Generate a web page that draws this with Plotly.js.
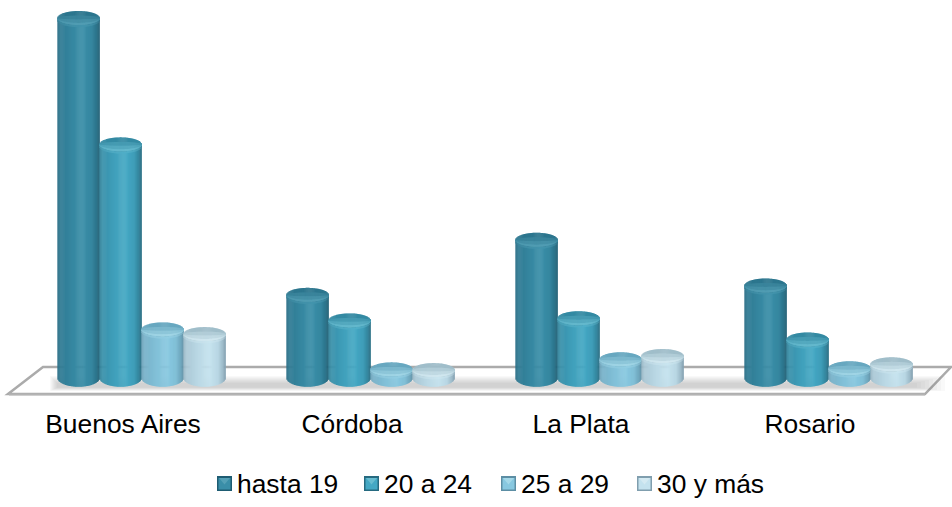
<!DOCTYPE html>
<html>
<head>
<meta charset="utf-8">
<script src="https://cdn.plot.ly/plotly-3.0.1.min.js"></script>
<style>html,body{margin:0;padding:0;background:#fff}#chart{width:952px;height:507px}</style>
</head>
<body>
<div id="chart"></div>
<script>
// Values per city for each age group
const categories = ['Buenos Aires', 'Córdoba', 'La Plata', 'Rosario'];
const hasta19 = [100, 23.1, 38.4, 25.7];
const de20a24 = [64.9, 16, 16.6, 10.7];
const de25a29 = [13.5, 2.4, 5.2, 2.7];
const de30ymas = [12.2, 2.2, 6.1, 3.8];
const seriesNames = ['hasta 19', '20 a 24', '25 a 29', '30 y más'];
const seriesValues = [hasta19, de20a24, de25a29, de30ymas];

// Cylinder palettes: shadow edge, lit body, cap back, cap rim
const palettes = [
  {edge: [30, 92, 114],   lit: [58, 142, 168],  back: [44, 118, 142],  rim: [84, 160, 182]},
  {edge: [38, 106, 128],  lit: [68, 168, 196],  back: [52, 138, 163],  rim: [104, 188, 208]},
  {edge: [92, 142, 164],  lit: [136, 200, 224], back: [104, 168, 192], rim: [164, 216, 232]},
  {edge: [128, 158, 174], lit: [196, 226, 238], back: [160, 190, 202], rim: [212, 234, 242]}
];

const W = 952, H = 507, plotBottom = 406;
const unitPx = 3.6, baselinePx = 378;        // pixels per value unit, baseline row
const groupPx = 229, firstGroupPx = 123;     // group pitch and first tick column
const cylPx = 42, groupShiftPx = 18.6;       // cylinder width, 3D shift of the bars from the tick
const ry = 7 / unitPx;                       // half height of the ellipses, in value units
const strips = 44;

const mix = (a, b, w) => a.map((c, i) => c + (b[i] - c) * w);
const css = c => 'rgb(' + c.map(Math.round).join(',') + ')';
const lightStops = [[-1, .3], [-.85, .62], [-.3, .86], [.25, 1], [.65, .84], [.88, .42], [1, 0]];
function light(t) {
  for (let i = 1; i < lightStops.length; i++) {
    const [t0, v0] = lightStops[i - 1], [t1, v1] = lightStops[i];
    if (t <= t1) return v0 + (v1 - v0) * (t - t0) / (t1 - t0);
  }
  return 0;
}

const stripT = [];
for (let k = 0; k < strips; k++) stripT.push(-1 + 2 * (k + .5) / strips);
const semi = t => ry * Math.sqrt(Math.max(0, 1 - t * t));

const traces = [];
function stripTrace(si, topFn, baseFn, colorFn) {
  const x = [], y = [], base = [], color = [];
  categories.forEach((c, ci) => {
    const v = seriesValues[si][ci];
    const cx = ci + (groupShiftPx + (si - 1.5) * cylPx) / groupPx;
    stripT.forEach(t => {
      x.push(cx + t * cylPx / 2 / groupPx);
      const b = baseFn(v, t);
      base.push(b);
      y.push(topFn(v, t) - b);
      color.push(colorFn(t));
    });
  });
  traces.push({
    type: 'bar', x, y, base, width: 1.5 * cylPx / strips / groupPx,
    marker: {color, line: {width: 0}}, showlegend: false, hoverinfo: 'skip', name: seriesNames[si]
  });
}

seriesNames.forEach((name, si) => {
  const p = palettes[si];
  // body, its foot curving slightly below the baseline
  stripTrace(si, (v, t) => v - semi(t), (v, t) => -semi(t) * 1.25, t => css(mix(p.edge, p.lit, light(t))));
  // bright band under the rim
  stripTrace(si, (v, t) => v - semi(t), (v, t) => v - semi(t) - .6,
    t => css(mix(mix(p.edge, p.lit, light(t)), p.rim, .35)));
  // cap, back to front
  [[1, 0], [.35, .35], [-.2, .65], [-.7, .95]].forEach(([f, w]) => {
    stripTrace(si, (v, t) => v + semi(t) * f, (v, t) => v - semi(t),
      t => css(mix(p.back, p.rim, w * (0.6 + 0.4 * light(t)))));
  });
});

const xRange = [-firstGroupPx / groupPx, (W - firstGroupPx) / groupPx];
const yRange = [(baselinePx - plotBottom) / unitPx, baselinePx / unitPx];

// Page-pixel helpers for the floor and the key
const px = x => x / W, py = y => 1 - y / plotBottom;
const pagePath = pts => 'M' + pts.map(p => px(p[0]) + ',' + py(p[1])).join('L') + 'Z';
const pageShape = (pts, fill, extra) => Object.assign({
  type: 'path', xref: 'paper', yref: 'paper', path: pagePath(pts),
  fillcolor: fill, line: {width: 0}, layer: 'above'
}, extra || {});

const shapes = [];
// Floor slab
shapes.push(pageShape([[8, 394], [43, 367], [951, 367], [925, 394]], '#ffffff',
  {layer: 'below', line: {color: '#ababab', width: 2.5}}));
// Heavier front edge of the slab
shapes.push(pageShape([[9, 393.5], [925, 393.5], [925, 395.5], [9, 395.5]], '#b4b4b4', {layer: 'below'}));
// Soft shadow on the floor, fading outwards in thin layers
for (let i = 0; i < 8; i++) {
  const y0 = 376 + i, y1 = 391 - i * .5, x0 = 50 + i, x1 = 945 - i * 4;
  shapes.push(pageShape([[x0, y0], [x1, y0], [x1, y1], [x0, y1]], 'rgba(105,95,95,0.04)', {layer: 'below'}));
}

// Key: swatches and labels
const keyLeft = [217, 364, 501, 637];
const annotations = [];
seriesNames.forEach((name, si) => {
  const p = palettes[si], l = keyLeft[si], t = 476, s = 15;
  shapes.push(pageShape([[l, t], [l + s, t], [l + s, t + s], [l, t + s]], css(p.edge)));
  shapes.push(pageShape([[l + 1.5, t + 2], [l + s - 1.5, t + 2], [l + s - 1.5, t + s - 1.5], [l + 1.5, t + s - 1.5]], css(p.lit)));
  shapes.push(pageShape([[l + 2, t + 2], [l + s - 2, t + 2], [l + s / 2, t + s / 2 + 1]], css(p.rim)));
  annotations.push({
    xref: 'paper', yref: 'paper', x: px(l + s + 4), y: py(483.5), xanchor: 'left', yanchor: 'middle',
    text: name, showarrow: false, font: {family: 'Liberation Sans, Arial, sans-serif', size: 26.4, color: '#000'},
    borderpad: 0
  });
});

Plotly.newPlot('chart', traces, {
  width: W, height: H,
  margin: {l: 0, r: 0, t: 0, b: H - plotBottom, pad: 0},
  paper_bgcolor: '#fff', plot_bgcolor: 'rgba(0,0,0,0)',
  barmode: 'overlay', showlegend: false,
  xaxis: {
    range: xRange, tickmode: 'array', tickvals: categories.map((c, i) => i), ticktext: categories,
    ticks: '', showgrid: false, zeroline: false, showline: false,
    tickfont: {family: 'Liberation Sans, Arial, sans-serif', size: 26.4, color: '#000'}
  },
  yaxis: {range: yRange, visible: false, fixedrange: true},
  shapes, annotations
}, {staticPlot: true, displayModeBar: false});
</script>
</body>
</html>
